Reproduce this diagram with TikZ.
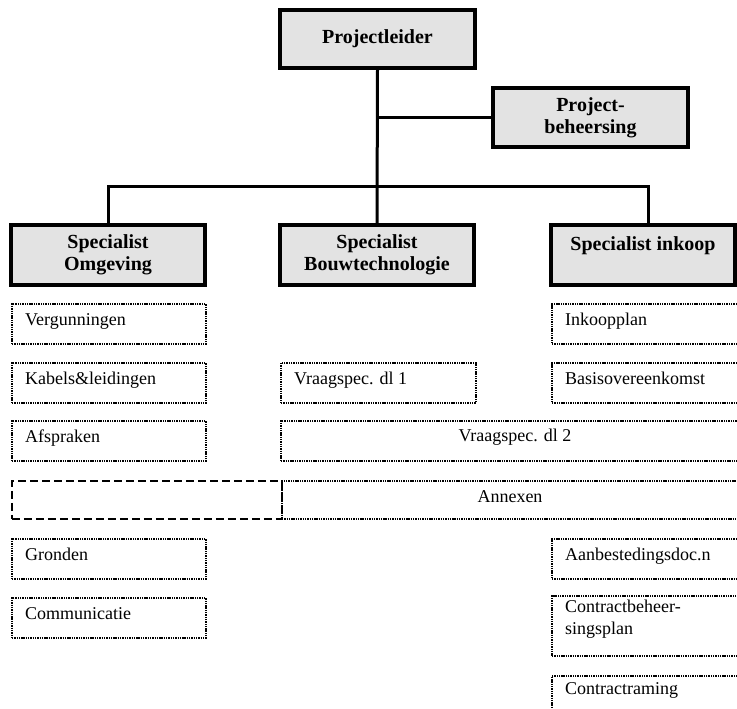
\documentclass[tikz,border=0pt]{standalone}
\usepackage{fontspec}
\setmainfont{Liberation Serif}
\usetikzlibrary{calc}
\tikzset{
 solidbox/.style={draw, line width=3.2pt, fill=black!11, align=center, inner sep=0pt, font=\fontsize{20}{22}\selectfont\bfseries},
 dotbox/.style={draw, dash pattern=on 1.4pt off 0.9pt, line width=1.8pt, inner sep=0pt, anchor=north west},
 dashbox/.style={draw, dash pattern=on 8pt off 4pt, line width=1.5pt, inner sep=0pt, anchor=north west},
 itemtext/.style={anchor=base west, inner sep=0pt, font=\fontsize{18}{22}\selectfont},
 midtext/.style={anchor=base, inner sep=0pt, font=\fontsize{18}{22}\selectfont},
 conn/.style={line width=3pt},
}
\begin{document}
\begin{tikzpicture}[x=1pt,y=-1pt]
\useasboundingbox (0,0) rectangle (737,709);
\clip (0,0) rectangle (737,709);

% solid boxes
\node[solidbox, minimum width=195, minimum height=58] (pl) at (377.5,39) {Projectleider};
\node[solidbox, minimum width=195, minimum height=59] (pb) at (590.5,117.5) {Project-\\beheersing};
\node[solidbox, minimum width=194, minimum height=60] (so) at (108,255) {Specialist\\Omgeving};
\node[solidbox, minimum width=194, minimum height=60] (sb) at (377,255) {Specialist\\Bouwtechnologie};
\node[solidbox, minimum width=184, minimum height=60] (si) at (643,255) {Specialist inkoop\\\mbox{}};

% connectors
\coordinate (barL) at (108,186);
\coordinate (barR) at (648,186);
\draw[conn] (pl.south) -- (sb.north);
\draw[conn] (pl.south |- pb.west) -- (pb.west);
\draw[conn] (so.north) -- (barL) -- (barR) -- (barR |- si.north);

% left column
\node[dotbox, minimum width=194, minimum height=40] (verg) at (11,303) {};
\node[itemtext] (vergt) at ($(verg.north west)+(14,22)$) {Vergunningen};
\node[dotbox, minimum width=194, minimum height=40] (kab) at (11,362) {};
\node[itemtext] (kabt) at ($(kab.north west)+(14,22)$) {Kabels\&leidingen};
\node[dotbox, minimum width=194, minimum height=40] (afs) at (11,420) {};
\node[itemtext] (afst) at ($(afs.north west)+(14,22)$) {Afspraken};
\node[dotbox, minimum width=194, minimum height=40] (gro) at (11,538) {};
\node[itemtext] (grot) at ($(gro.north west)+(14,22)$) {Gronden};
\node[dotbox, minimum width=194, minimum height=40] (com) at (11,597) {};
\node[itemtext] (comt) at ($(com.north west)+(14,22)$) {Communicatie};

% middle
\node[dotbox, minimum width=195, minimum height=40] (vs1) at (280,362) {};
\node[itemtext] (vs1t) at ($(vs1.north west)+(14,22)$) {Vraagspec. dl 1};
\node[dotbox, minimum width=470, minimum height=40] (vs2) at (280,420) {};
\node[midtext] (vs2t) at ($(vs2.north west)+(235,21)$) {Vraagspec. dl 2};
\node[dashbox, minimum width=270, minimum height=38] (leeg) at (11,480) {};
\node[dotbox, minimum width=469, minimum height=38] (anx) at (281,480) {};
\node[midtext] (anxt) at ($(anx.north west)+(229,22)$) {Annexen};

% right column
\node[dotbox, minimum width=199, minimum height=40] (ink) at (551,303) {};
\node[itemtext] (inkt) at ($(ink.north west)+(14,22)$) {Inkoopplan};
\node[dotbox, minimum width=199, minimum height=40] (bas) at (551,362) {};
\node[itemtext] (bast) at ($(bas.north west)+(14,22)$) {Basisovereenkomst};
\node[dotbox, minimum width=199, minimum height=40] (aan) at (551,538) {};
\node[itemtext] (aant) at ($(aan.north west)+(14,22)$) {Aanbestedingsdoc.n};
\node[dotbox, minimum width=199, minimum height=60] (cbp) at (551,595) {};
\node[itemtext, align=left, anchor=north west] (cbpt) at ($(cbp.north west)+(14,5)$) {Contractbeheer-\\singsplan};
\node[dotbox, minimum width=199, minimum height=45] (cr) at (551,675) {};
\node[itemtext] (crt) at ($(cr.north west)+(14,19)$) {Contractraming};
\end{tikzpicture}
\end{document}
